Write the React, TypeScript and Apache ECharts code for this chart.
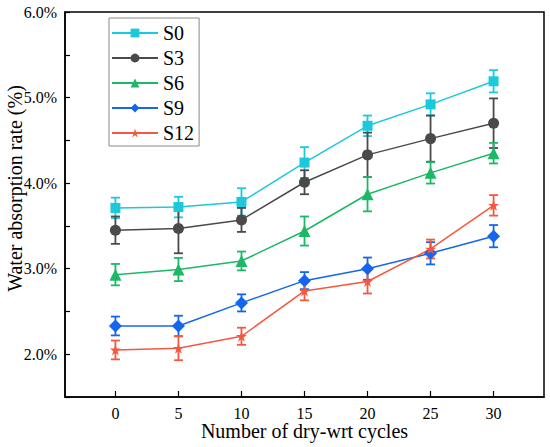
import React, { useEffect, useRef } from "react";
import * as echarts from "echarts";

const cycles = [0, 5, 10, 15, 20, 25, 30];
const seriesNames = ["S0", "S3", "S6", "S9", "S12"];
const s0Mean = [3.71, 3.72, 3.78, 4.24, 4.67, 4.92, 5.19];
const s0Err = [0.12, 0.12, 0.16, 0.18, 0.12, 0.13, 0.13];
const s3Mean = [3.45, 3.47, 3.57, 4.01, 4.33, 4.52, 4.70];
const s3Err = [0.16, 0.29, 0.14, 0.14, 0.26, 0.27, 0.29];
const s6Mean = [2.93, 2.99, 3.09, 3.44, 3.87, 4.12, 4.35];
const s6Err = [0.125, 0.135, 0.11, 0.17, 0.2, 0.125, 0.12];
const s9Mean = [2.33, 2.33, 2.60, 2.86, 3.00, 3.18, 3.38];
const s9Err = [0.11, 0.12, 0.10, 0.10, 0.13, 0.13, 0.13];
const s12Mean = [2.05, 2.07, 2.21, 2.74, 2.85, 3.23, 3.74];
const s12Err = [0.11, 0.14, 0.10, 0.11, 0.14, 0.11, 0.12];
const yTicks = [2, 3, 4, 5, 6];

const means = [s0Mean, s3Mean, s6Mean, s9Mean, s12Mean];
const errs = [s0Err, s3Err, s6Err, s9Err, s12Err];
const colors = ["#1cc8dc", "#4a4a4a", "#1db866", "#1466ee", "#f5583f"];
const symbols = ["rect", "circle", "triangle", "diamond", "path://M50,0 L62,36 L100,36 L69,58 L81,95 L50,72 L19,95 L31,58 L0,36 L38,36 Z"];
const symbolSizes = [10, 11, 12, 13, 11];

const FONT = "Liberation Serif";

export default function App() {
  const ref = useRef<HTMLDivElement>(null);
  useEffect(() => {
    document.body.style.margin = "0";
    const chart = echarts.init(ref.current!, undefined, { renderer: "svg" });
    const lineSeries = seriesNames.map((name, i) => ({
      name,
      type: "line",
      data: cycles.map((c, j) => [c, means[i][j]]),
      symbol: symbols[i],
      symbolSize: symbolSizes[i],
      itemStyle: { color: colors[i] },
      lineStyle: { color: colors[i], width: 1.5 },
      z: 3,
    }));
    const errSeries = seriesNames.map((name, i) => ({
      name: name + " error",
      type: "custom",
      data: cycles.map((c, j) => [c, means[i][j] - errs[i][j], means[i][j] + errs[i][j]]),
      encode: { x: 0, y: [1, 2] },
      z: 2,
      renderItem: (params: any, api: any) => {
        const x = api.value(0);
        const lo = api.coord([x, api.value(1)]);
        const hi = api.coord([x, api.value(2)]);
        const hw = 4.5;
        const style = { stroke: colors[i], lineWidth: 1.8 };
        return {
          type: "group",
          children: [
            { type: "line", shape: { x1: lo[0], y1: lo[1], x2: hi[0], y2: hi[1] }, style },
            { type: "line", shape: { x1: lo[0] - hw, y1: lo[1], x2: lo[0] + hw, y2: lo[1] }, style },
            { type: "line", shape: { x1: hi[0] - hw, y1: hi[1], x2: hi[0] + hw, y2: hi[1] }, style },
          ],
        };
      },
    }));
    chart.setOption({
      animation: false,
      backgroundColor: "#ffffff",
      textStyle: { fontFamily: FONT },
      grid: {
        left: 65,
        top: 12,
        right: 6,
        bottom: 50,
        outerBoundsMode: "none",
        containLabel: false,
        show: true,
        borderColor: "#000",
        borderWidth: 1.5,
      },
      legend: {
        data: seriesNames,
        orient: "vertical",
        left: 109,
        top: 18,
        padding: [5, 5, 3, 2],
        itemGap: 5,
        itemWidth: 46,
        itemHeight: 11,
        borderColor: "#8a8a8a",
        borderWidth: 1,
        backgroundColor: "#fff",
        textStyle: { fontFamily: FONT, fontSize: 20, color: "#000", lineHeight: 20 },
      },
      xAxis: {
        type: "value",
        min: -4,
        max: 34,
        name: "Number of dry-wrt cycles",
        nameLocation: "middle",
        nameGap: 24,
        nameMoveOverlap: false,
        nameTextStyle: { fontFamily: FONT, fontSize: 20, color: "#000" },
        axisLine: { onZero: false, lineStyle: { color: "#000", width: 1.5 } },
        axisTick: { inside: true, length: 6, customValues: cycles, lineStyle: { color: "#000", width: 1.2 } },
        axisLabel: { customValues: cycles, fontFamily: FONT, fontSize: 16, color: "#000", margin: 8 },
        splitLine: { show: false },
      },
      yAxis: {
        type: "value",
        min: 1.5,
        max: 6,
        interval: 0.5,
        name: "Water absorption rate (%)",
        nameLocation: "middle",
        nameGap: 40,
        nameMoveOverlap: false,
        nameTextStyle: { fontFamily: FONT, fontSize: 20, color: "#000", padding: [0, 0, 0, 32] },
        axisLine: { onZero: false, lineStyle: { color: "#000", width: 1.5 } },
        axisTick: { inside: true, length: 5, lineStyle: { color: "#000", width: 1.2 } },
        axisLabel: {
          fontFamily: FONT,
          fontSize: 16,
          color: "#000",
          margin: 8,
          formatter: (v: number) => (yTicks.includes(v) ? `${v.toFixed(1)}%` : ""),
        },
        splitLine: { show: false },
      },
      series: [...lineSeries, ...errSeries],
    });
    return () => chart.dispose();
  }, []);
  return <div ref={ref} style={{ width: 550, height: 447 }} />;
}
